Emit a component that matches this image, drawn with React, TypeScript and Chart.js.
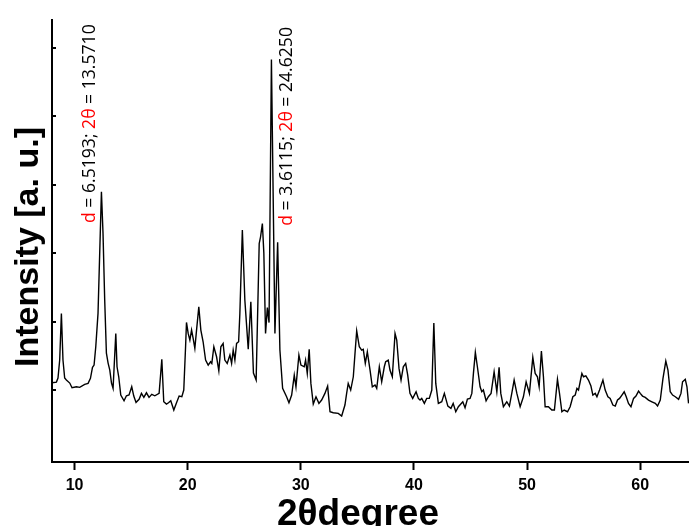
import React, { useEffect, useRef } from "react";
import { Chart, registerables } from "chart.js";

Chart.register(...registerables);

// 2θ (degree)
const twoTheta = [
  8.0, 8.39, 8.53, 8.68, 8.83, 8.97, 9.12, 9.27, 9.57, 9.77,
  10.16, 10.45, 10.89, 11.19, 11.4, 11.58, 11.72, 11.87, 12.07, 12.37,
  12.51, 12.66, 12.81, 12.96, 13.11, 13.26, 13.4, 13.64, 13.75, 13.9,
  14.08, 14.37, 14.58, 14.81, 15.05, 15.23, 15.43, 15.7, 15.91, 16.12,
  16.35, 16.58, 16.82, 17.09, 17.47, 17.71, 17.88, 18.12, 18.3, 18.5,
  18.77, 19.01, 19.24, 19.48, 19.65, 19.81, 19.89, 20.04, 20.19, 20.34,
  20.48, 20.63, 20.78, 20.98, 21.16, 21.36, 21.58, 21.81, 22.02, 22.13,
  22.31, 22.55, 22.75, 22.93, 23.13, 23.28, 23.49, 23.73, 23.88, 24.02,
  24.17, 24.32, 24.5, 24.61, 24.83, 25.05, 25.35, 25.58, 25.81, 26.05,
  26.32, 26.44, 26.6, 26.73, 26.88, 27.04, 27.19, 27.4, 27.71, 27.95,
  28.15, 28.39, 28.74, 28.95, 29.19, 29.42, 29.57, 29.83, 30.01, 30.3,
  30.42, 30.57, 30.74, 30.89, 31.1, 31.34, 31.6, 31.84, 32.13, 32.37,
  32.58, 32.87, 33.31, 33.61, 33.9, 34.05, 34.19, 34.41, 34.64, 34.79,
  34.94, 35.17, 35.38, 35.52, 35.7, 35.88, 36.12, 36.32, 36.56, 36.71,
  36.94, 37.15, 37.38, 37.5, 37.73, 37.88, 38.09, 38.33, 38.48, 38.68,
  38.86, 39.06, 39.27, 39.45, 39.65, 39.89, 40.19, 40.39, 40.54, 40.69,
  40.92, 41.13, 41.36, 41.58, 41.76, 41.93, 42.16, 42.46, 42.69, 43.0,
  43.27, 43.47, 43.7, 43.93, 44.32, 44.52, 44.73, 44.96, 45.12, 45.26,
  45.43, 45.61, 45.85, 46.0, 46.14, 46.38, 46.58, 46.82, 47.09, 47.33,
  47.53, 47.68, 47.91, 48.21, 48.44, 48.65, 48.86, 49.1, 49.39, 49.68,
  49.92, 50.21, 50.51, 50.72, 50.92, 51.07, 51.27, 51.45, 51.6, 51.89,
  52.19, 52.42, 52.69, 52.87, 53.08, 53.28, 53.58, 53.81, 54.05, 54.26,
  54.41, 54.55, 54.7, 54.85, 54.99, 55.2, 55.43, 55.65, 55.82, 56.03,
  56.18, 56.41, 56.53, 56.71, 56.91, 57.15, 57.35, 57.59, 57.8, 58.0,
  58.18, 58.39, 58.59, 58.77, 58.97, 59.19, 59.42, 59.63, 59.86, 60.01,
  60.21, 60.45, 60.74, 61.04, 61.34, 61.54, 61.78, 62.02, 62.27, 62.46,
  62.66, 62.87, 63.11, 63.4, 63.61, 63.75, 63.99, 64.14, 64.28,
];

// Intensity (a.u.)
const intensity = [
  1106, 1116, 1175, 1438, 2119, 1438, 1175, 1146, 1102, 1033,
  1048, 1039, 1083, 1097, 1170, 1331, 1365, 1632, 2124, 3895,
  3292, 2314, 1540, 1394, 1292, 1102, 1024, 1827, 1340, 1194,
  927, 843, 916, 927, 1048, 912, 820, 864, 951, 893,
  960, 893, 937, 916, 951, 1448, 829, 795, 814, 843,
  708, 814, 912, 902, 1000, 1632, 1988, 1827, 1730, 1876,
  1754, 1608, 1876, 2216, 1876, 1705, 1438, 1365, 1413, 1389,
  1632, 1486, 1281, 1632, 1681, 1438, 1389, 1511, 1389, 1584,
  1438, 1681, 1705, 2119, 3336, 2314, 1598, 2289, 1248, 1146,
  3141, 3238, 3433, 3000, 1827, 2204, 1985, 5828, 1827, 3160,
  1584, 1024, 902, 814, 927, 1219, 1048, 1511, 1365, 1340,
  1438, 1243, 1594, 1097, 795, 902, 805, 854, 951, 1058,
  683, 668, 659, 620, 781, 951, 1097, 1000, 1194, 1535,
  1865, 1632, 1584, 1594, 1389, 1559, 1292, 1048, 1073, 1024,
  1340, 1121, 1340, 1413, 1438, 1292, 1194, 1827, 1730, 1316,
  1146, 1340, 1389, 1219, 951, 878, 975, 878, 854, 878,
  805, 878, 878, 1000, 1978, 1097, 805, 829, 951, 766,
  732, 805, 683, 756, 829, 741, 868, 878, 951, 1243,
  1550, 1340, 1048, 975, 1000, 843, 902, 951, 1267, 975,
  1331, 951, 756, 829, 766, 951, 1146, 951, 756, 902,
  1121, 951, 1477, 1243, 1194, 1048, 1569, 1194, 756, 756,
  708, 708, 1156, 951, 683, 708, 683, 756, 902, 927,
  1024, 1000, 1121, 1243, 1194, 1208, 1146, 1058, 927, 951,
  902, 1000, 1058, 1146, 1000, 902, 878, 781, 766, 854,
  878, 927, 975, 902, 805, 756, 878, 912, 985, 951,
  912, 893, 854, 829, 805, 766, 854, 1170, 1423, 1292,
  975, 927, 902, 864, 951, 1121, 1156, 1048, 805,
];

const xTickValues = [10, 20, 30, 40, 50, 60];
const yTickValues = [1000, 2000, 3000, 4000, 5000, 6000];
const xAxisTitle = "2θdegree";
const yAxisTitle = "Intensity [a. u.]";

// peak annotations
const peakX = [11.8, 29.22];
const peakY = [3440, 3400];
const peakD = ["6.5193", "3.6115"];
const peak2Theta = ["13.5710", "24.6250"];

const decorPlugin = {
  id: "decor",
  afterDraw(chart: any) {
    const { ctx, chartArea, scales } = chart;
    const x = scales.x;
    const y = scales.y;
    ctx.save();

    // inward y-axis ticks
    ctx.strokeStyle = "#000";
    ctx.lineWidth = 2;
    yTickValues.forEach((v) => {
      const py = Math.round(y.getPixelForValue(v));
      ctx.beginPath();
      ctx.moveTo(chartArea.left, py);
      ctx.lineTo(chartArea.left + 4, py);
      ctx.stroke();
    });

    // y title
    ctx.fillStyle = "#000";
    ctx.font = 'bold 34px "Liberation Sans", Arial, sans-serif';
    ctx.textAlign = "center";
    ctx.textBaseline = "alphabetic";
    ctx.save();
    ctx.translate(37.5, 247);
    ctx.rotate(-Math.PI / 2);
    ctx.fillText(yAxisTitle, 0, 0);
    ctx.restore();

    // x title
    ctx.font = 'bold 37px "Liberation Sans", Arial, sans-serif';
    ctx.fillText(xAxisTitle, 358, 525);

    // annotations
    ctx.font = '17.6px "Open Sans", sans-serif';
    ctx.textAlign = "left";
    peakX.forEach((vx, i) => {
      const bx = x.getPixelForValue(vx);
      const by = y.getPixelForValue(peakY[i]);
      const segs: [string, string][] = [
        ["d", "#ff0000"],
        [" = " + peakD[i] + "; ", "#000000"],
        ["2θ", "#ff0000"],
        [" = " + peak2Theta[i], "#000000"],
      ];
      ctx.save();
      ctx.translate(bx, by);
      ctx.rotate(-Math.PI / 2);
      let cx = 0;
      segs.forEach(([t, c]) => {
        ctx.fillStyle = c;
        ctx.fillText(t, cx, 0);
        cx += ctx.measureText(t).width;
      });
      ctx.restore();
    });

    ctx.restore();
  },
};

export default function App() {
  const canvasRef = useRef<HTMLCanvasElement | null>(null);

  useEffect(() => {
    if (!canvasRef.current) return;
    const points = twoTheta.map((t, i) => ({ x: t, y: intensity[i] }));
    const chart = new Chart(canvasRef.current, {
      type: "line",
      data: {
        datasets: [
          {
            data: points,
            borderColor: "#000000",
            borderWidth: 1.4,
            pointRadius: 0,
            tension: 0,
            fill: false,
          },
        ],
      },
      options: {
        responsive: false,
        animation: false,
        devicePixelRatio: 1,
        layout: { padding: { top: 20, left: 0, right: 0, bottom: 0 } },
        plugins: {
          legend: { display: false },
          tooltip: { enabled: false },
        },
        scales: {
          x: {
            type: "linear",
            min: 8,
            max: 64.32,
            afterBuildTicks: (scale: any) => {
              scale.ticks = xTickValues.map((v) => ({ value: v }));
            },
            afterFit: (scale: any) => {
              scale.height = 64;
            },
            grid: {
              display: true,
              drawOnChartArea: false,
              drawTicks: true,
              tickLength: 8,
              tickWidth: 2,
              tickColor: "#000",
            },
            border: { display: true, color: "#000", width: 2 },
            ticks: {
              color: "#000",
              padding: 6,
              maxRotation: 0,
              autoSkip: false,
              font: { family: '"Liberation Sans", Arial, sans-serif', size: 16, weight: "bold" },
            },
          },
          y: {
            type: "linear",
            min: -51,
            max: 6405,
            afterFit: (scale: any) => {
              scale.width = 52;
            },
            grid: { display: false },
            border: { display: true, color: "#000", width: 2 },
            ticks: { display: false },
          },
        },
      },
      plugins: [decorPlugin],
    });
    return () => chart.destroy();
  }, []);

  return (
    <div style={{ position: "absolute", left: 0, top: 0, width: 689, height: 526, background: "#fff" }}>
      <canvas ref={canvasRef} width={689} height={526} style={{ display: "block" }} />
    </div>
  );
}
